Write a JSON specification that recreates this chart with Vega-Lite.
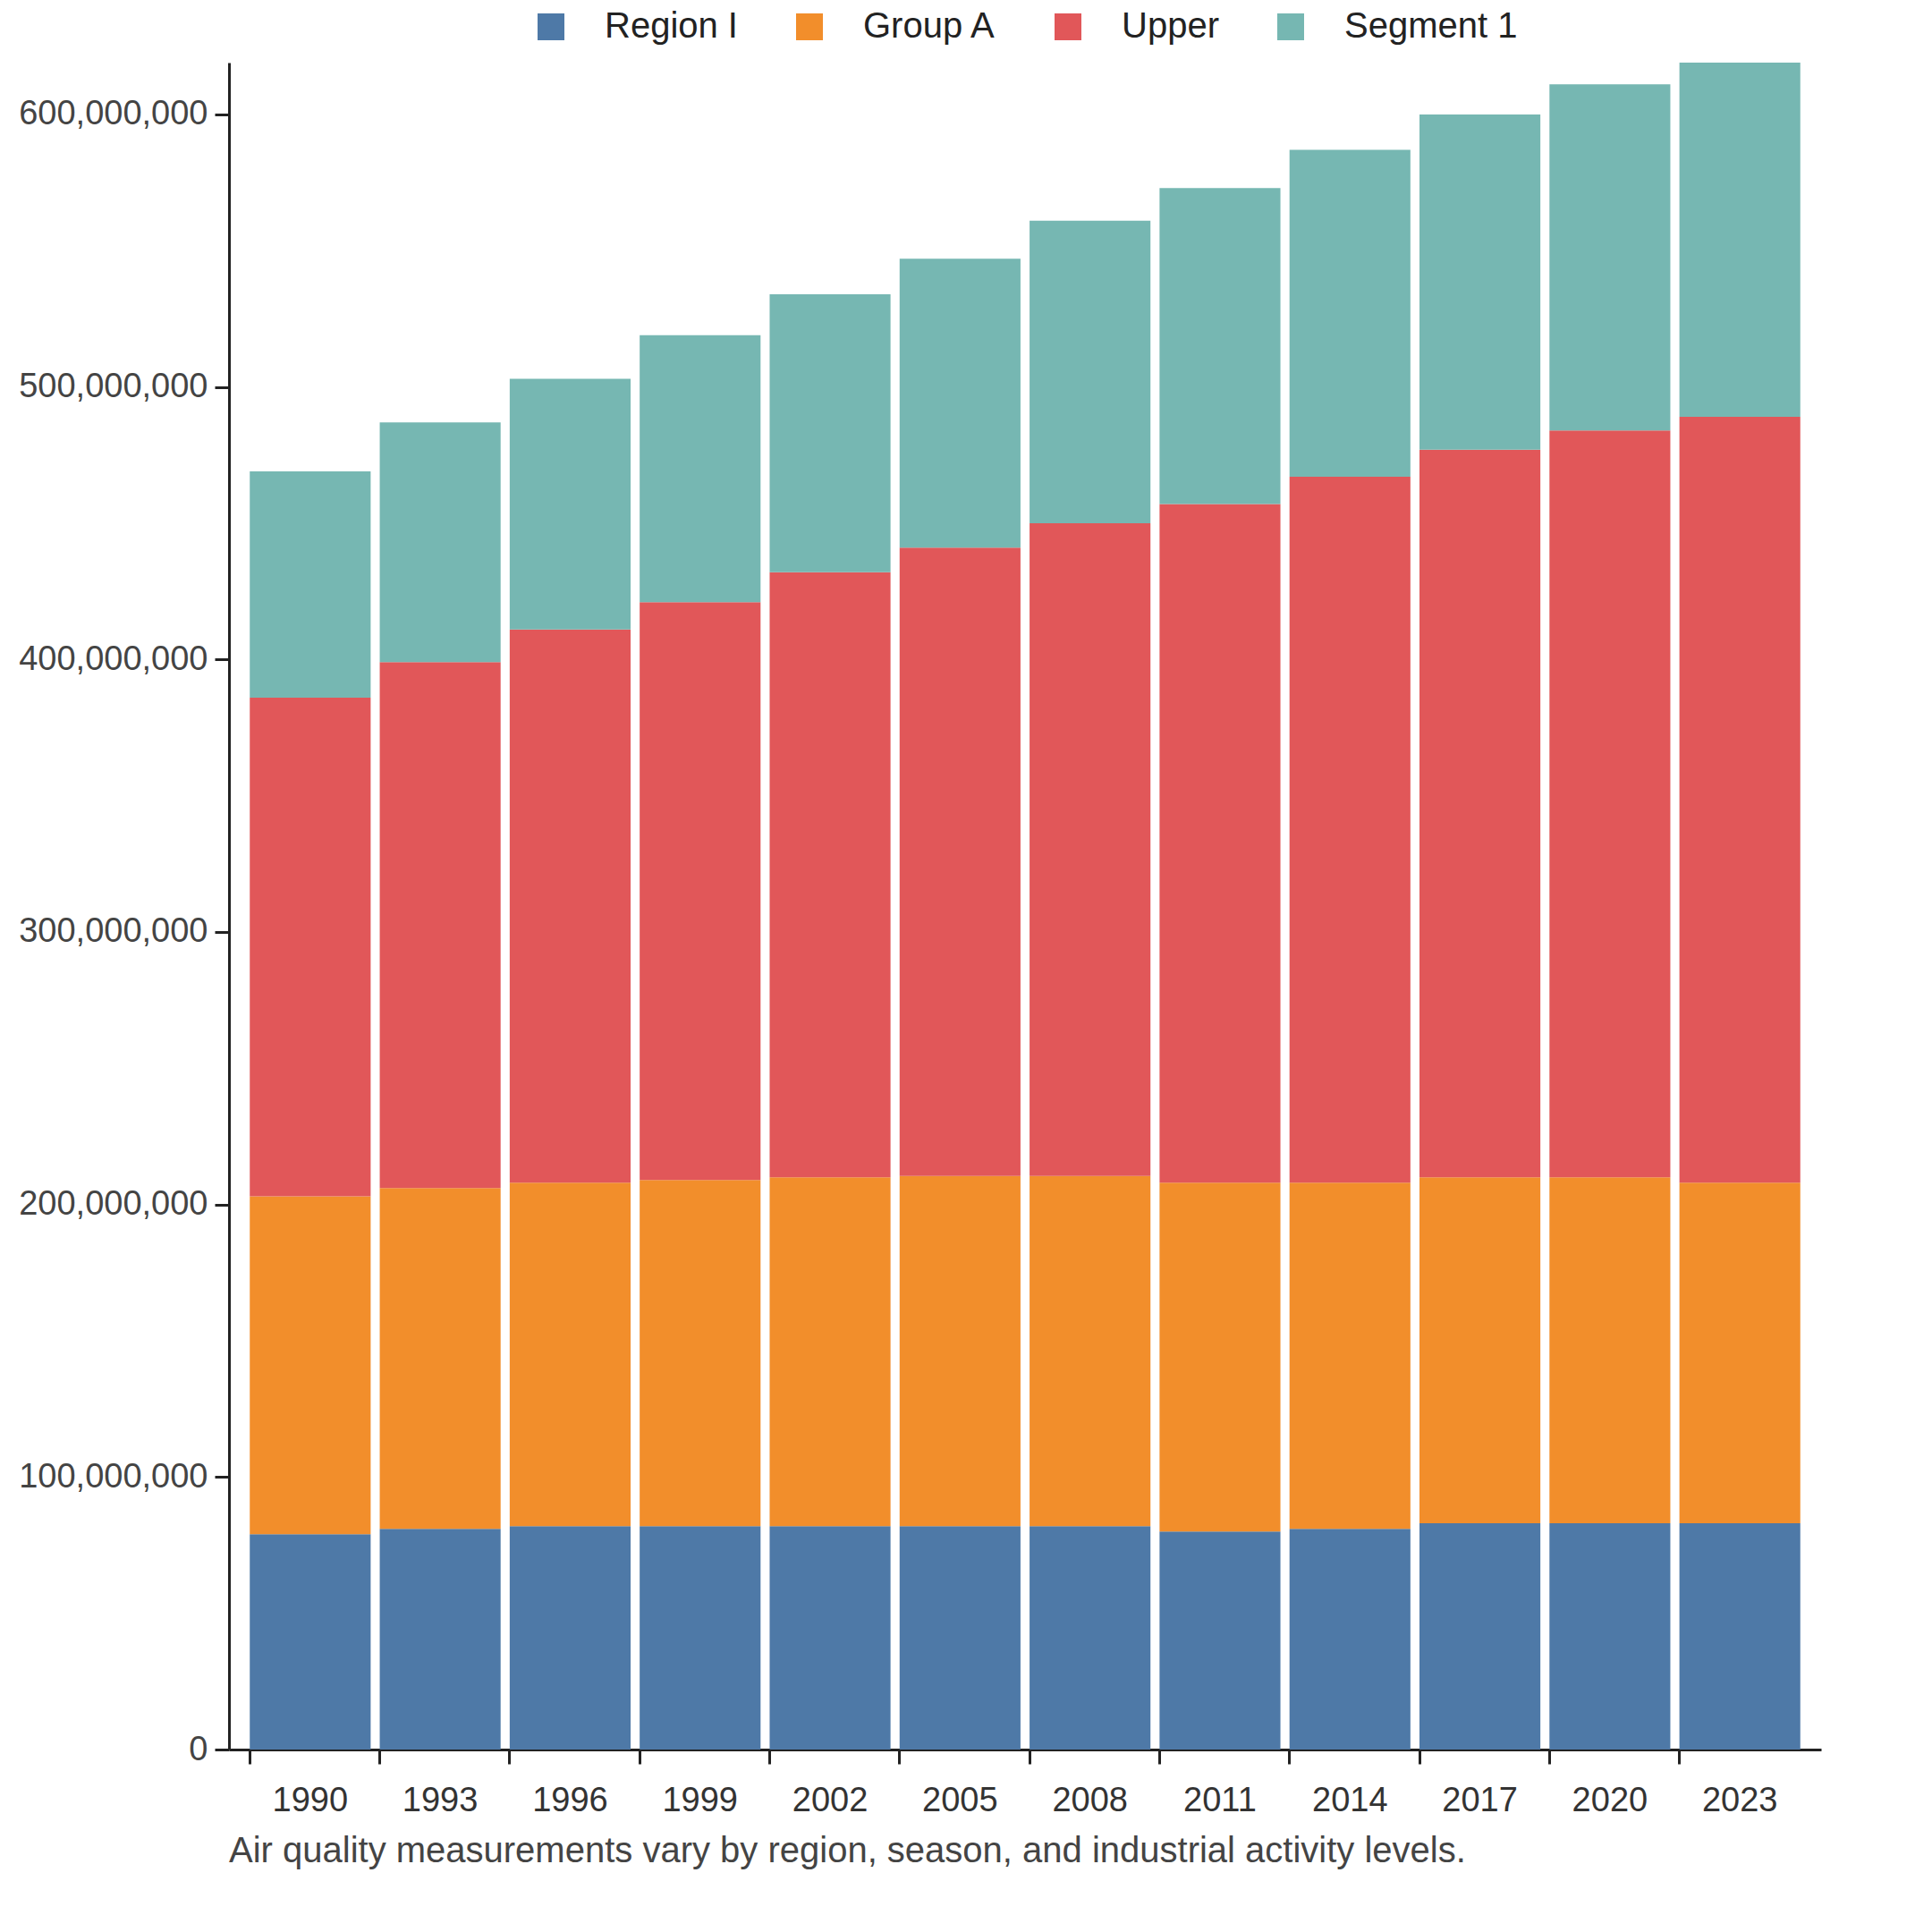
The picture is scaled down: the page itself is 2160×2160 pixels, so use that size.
{
  "$schema": "https://vega.github.io/schema/vega-lite/v6.json",
  "width": 1780,
  "height": 1886,
  "padding": {"left": 20, "top": 10, "right": 20, "bottom": 10},
  "background": "white",
  "title": {"text": "Air quality measurements vary by region, season, and industrial activity levels.", "orient": "bottom", "anchor": "start", "frame": "group", "fontSize": 40, "fontWeight": "normal", "color": "#444", "font": "Liberation Sans", "offset": 18},
  "data": {
    "values": [
      {"year": "1990", "series": "Region I", "k": 0, "value": 79000000},
      {"year": "1990", "series": "Group A", "k": 1, "value": 124000000},
      {"year": "1990", "series": "Upper", "k": 2, "value": 183000000},
      {"year": "1990", "series": "Segment 1", "k": 3, "value": 83000000},
      {"year": "1993", "series": "Region I", "k": 0, "value": 81000000},
      {"year": "1993", "series": "Group A", "k": 1, "value": 125000000},
      {"year": "1993", "series": "Upper", "k": 2, "value": 193000000},
      {"year": "1993", "series": "Segment 1", "k": 3, "value": 88000000},
      {"year": "1996", "series": "Region I", "k": 0, "value": 82000000},
      {"year": "1996", "series": "Group A", "k": 1, "value": 126000000},
      {"year": "1996", "series": "Upper", "k": 2, "value": 203000000},
      {"year": "1996", "series": "Segment 1", "k": 3, "value": 92000000},
      {"year": "1999", "series": "Region I", "k": 0, "value": 82000000},
      {"year": "1999", "series": "Group A", "k": 1, "value": 127000000},
      {"year": "1999", "series": "Upper", "k": 2, "value": 212000000},
      {"year": "1999", "series": "Segment 1", "k": 3, "value": 98000000},
      {"year": "2002", "series": "Region I", "k": 0, "value": 82000000},
      {"year": "2002", "series": "Group A", "k": 1, "value": 128000000},
      {"year": "2002", "series": "Upper", "k": 2, "value": 222000000},
      {"year": "2002", "series": "Segment 1", "k": 3, "value": 102000000},
      {"year": "2005", "series": "Region I", "k": 0, "value": 82000000},
      {"year": "2005", "series": "Group A", "k": 1, "value": 128500000},
      {"year": "2005", "series": "Upper", "k": 2, "value": 230500000},
      {"year": "2005", "series": "Segment 1", "k": 3, "value": 106000000},
      {"year": "2008", "series": "Region I", "k": 0, "value": 82000000},
      {"year": "2008", "series": "Group A", "k": 1, "value": 128500000},
      {"year": "2008", "series": "Upper", "k": 2, "value": 239500000},
      {"year": "2008", "series": "Segment 1", "k": 3, "value": 111000000},
      {"year": "2011", "series": "Region I", "k": 0, "value": 80000000},
      {"year": "2011", "series": "Group A", "k": 1, "value": 128000000},
      {"year": "2011", "series": "Upper", "k": 2, "value": 249000000},
      {"year": "2011", "series": "Segment 1", "k": 3, "value": 116000000},
      {"year": "2014", "series": "Region I", "k": 0, "value": 81000000},
      {"year": "2014", "series": "Group A", "k": 1, "value": 127000000},
      {"year": "2014", "series": "Upper", "k": 2, "value": 259000000},
      {"year": "2014", "series": "Segment 1", "k": 3, "value": 120000000},
      {"year": "2017", "series": "Region I", "k": 0, "value": 83000000},
      {"year": "2017", "series": "Group A", "k": 1, "value": 127000000},
      {"year": "2017", "series": "Upper", "k": 2, "value": 267000000},
      {"year": "2017", "series": "Segment 1", "k": 3, "value": 123000000},
      {"year": "2020", "series": "Region I", "k": 0, "value": 83000000},
      {"year": "2020", "series": "Group A", "k": 1, "value": 127000000},
      {"year": "2020", "series": "Upper", "k": 2, "value": 274000000},
      {"year": "2020", "series": "Segment 1", "k": 3, "value": 127000000},
      {"year": "2023", "series": "Region I", "k": 0, "value": 83000000},
      {"year": "2023", "series": "Group A", "k": 1, "value": 125000000},
      {"year": "2023", "series": "Upper", "k": 2, "value": 281000000},
      {"year": "2023", "series": "Segment 1", "k": 3, "value": 130000000}
    ]
  },
  "mark": {"type": "bar"},
  "encoding": {
    "x": {
      "field": "year", "type": "ordinal", "title": null,
      "scale": {"paddingInner": 0.07, "paddingOuter": 0.16},
      "axis": {"bandPosition": 0, "labelAngle": 0, "labelFontSize": 38, "labelPadding": 22, "tickSize": 16, "tickWidth": 3, "labelColor": "#333"}
    },
    "y": {
      "field": "value", "type": "quantitative", "aggregate": "sum", "stack": "zero", "title": null,
      "scale": {"domain": [0, 619000000], "nice": false},
      "axis": {"grid": false, "format": ",d", "values": [0, 100000000, 200000000, 300000000, 400000000, 500000000, 600000000], "labelFontSize": 38, "labelLimit": 0, "tickSize": 16, "tickWidth": 3, "labelColor": "#444", "labelPadding": 8}
    },
    "color": {
      "field": "series", "type": "nominal", "title": null,
      "scale": {"domain": ["Region I", "Group A", "Upper", "Segment 1"], "range": ["#4e79a7", "#f28e2b", "#e15759", "#76b7b2"]},
      "legend": {"orient": "top", "direction": "horizontal", "labelFontSize": 40, "labelLimit": 0, "symbolSize": 900, "symbolType": "square", "columnPadding": 60, "labelOffset": 40, "labelColor": "#222", "offset": 20}
    },
    "order": {"field": "k", "type": "quantitative"}
  },
  "config": {
    "font": "Liberation Sans",
    "view": {"stroke": null},
    "axis": {"domainColor": "#222", "domainWidth": 3, "tickColor": "#222", "labelFont": "Liberation Sans"},
    "legend": {"labelFont": "Liberation Sans", "layout": {"top": {"anchor": "middle"}}}
  }
}
